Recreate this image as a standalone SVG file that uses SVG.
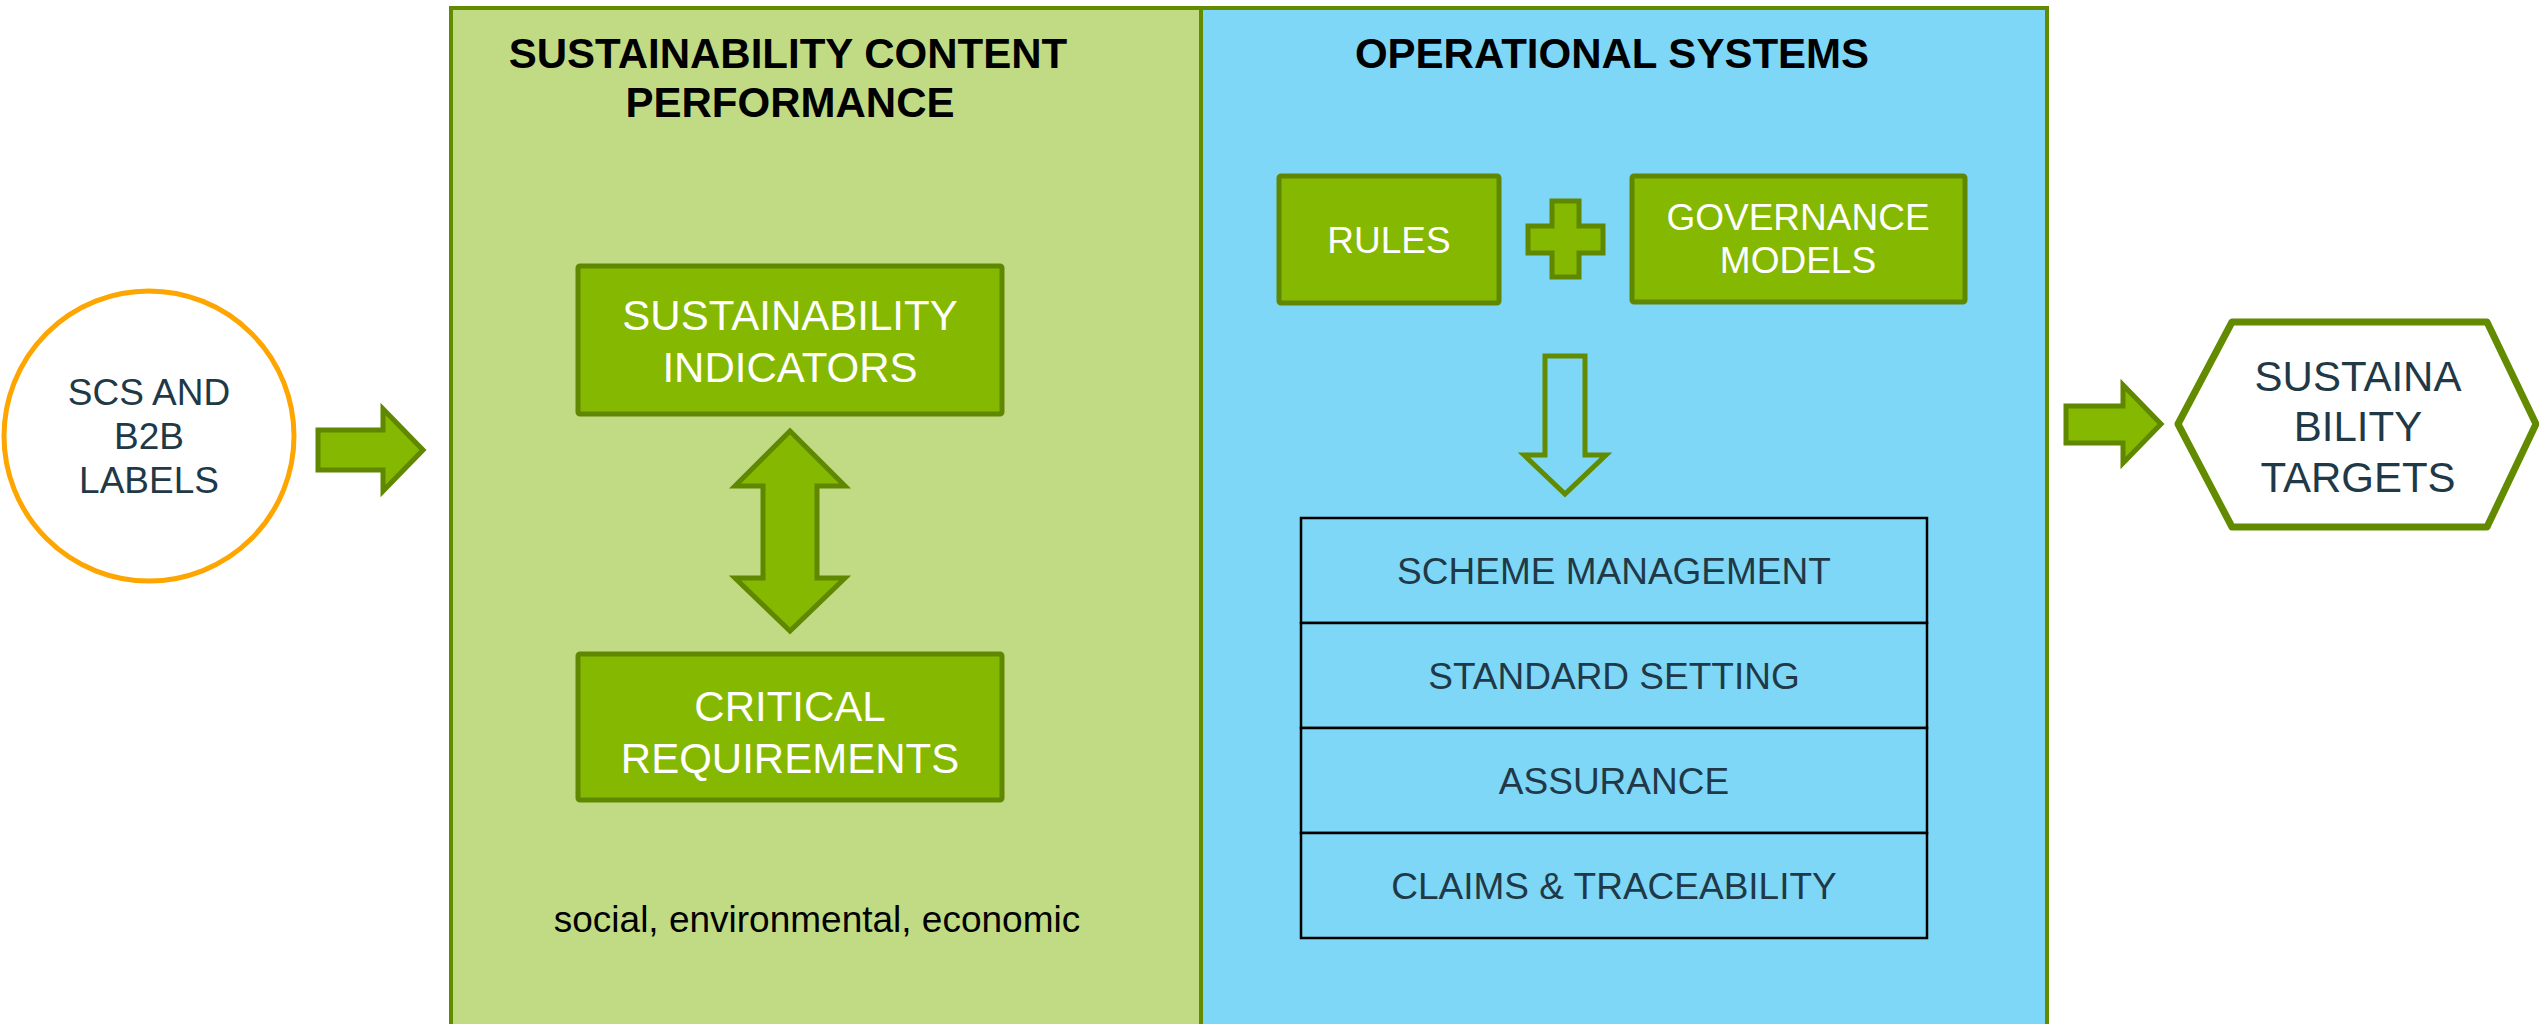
<svg xmlns="http://www.w3.org/2000/svg" width="2539" height="1024" viewBox="0 0 2539 1024">
<style>
.panel{stroke:#628B00;stroke-width:4}
.gbox{fill:#85B800;stroke:#5F8700;stroke-width:5}
.arrow{fill:#85B800;stroke:#5F8700;stroke-width:5;stroke-linejoin:miter}
.title{font-family:"Liberation Sans",Arial,sans-serif;font-weight:bold;font-size:42px;fill:#000;text-anchor:middle}
.wt{font-family:"Liberation Sans",Arial,sans-serif;fill:#fff;text-anchor:middle}
.dt{font-family:"Liberation Sans",Arial,sans-serif;fill:#1F3947;text-anchor:middle}
.row{fill:#7FD7F7;stroke:#000;stroke-width:2.5}
</style>
<rect width="2539" height="1024" fill="#fff"/>
<g id="panel-content">
<rect class="panel" x="451" y="8" width="750" height="1030" fill="#C1DB85"/>
<text class="title" x="788" y="68">SUSTAINABILITY CONTENT</text>
<text class="title" x="790" y="117">PERFORMANCE</text>
<text x="817" y="932" font-family="Liberation Sans, Arial, sans-serif" font-size="37" fill="#000" text-anchor="middle">social, environmental, economic</text>
</g>
<g id="panel-operational">
<rect class="panel" x="1201" y="8" width="846" height="1030" fill="#7FD7F7"/>
<text class="title" x="1612" y="68">OPERATIONAL SYSTEMS</text>
</g>
<g id="node-scs">
<circle cx="149" cy="436" r="145" fill="#fff" stroke="#FFA500" stroke-width="5"/>
<text class="dt" font-size="37" x="149" y="405">SCS AND</text>
<text class="dt" font-size="37" x="149" y="449">B2B</text>
<text class="dt" font-size="37" x="149" y="493">LABELS</text>
</g>
<g id="node-indicators">
<rect class="gbox" x="578" y="266" width="424" height="148" rx="2"/>
<text class="wt" font-size="42" x="790" y="330">SUSTAINABILITY</text>
<text class="wt" font-size="42" x="790" y="382">INDICATORS</text>
</g>
<g id="node-critical">
<rect class="gbox" x="578" y="654" width="424" height="146" rx="2"/>
<text class="wt" font-size="42" x="790" y="721">CRITICAL</text>
<text class="wt" font-size="42" x="790" y="773">REQUIREMENTS</text>
</g>
<g id="node-rules">
<rect class="gbox" x="1279" y="176" width="220" height="127" rx="2"/>
<text class="wt" font-size="37" x="1389" y="253">RULES</text>
</g>
<g id="node-plus">
<path class="arrow" d="M1552,201 H1579 V226 H1603 V253 H1579 V277 H1552 V253 H1528 V226 H1552 Z"/>
</g>
<g id="node-governance">
<rect class="gbox" x="1632" y="176" width="333" height="126" rx="2"/>
<text class="wt" font-size="37" x="1798" y="230">GOVERNANCE</text>
<text class="wt" font-size="37" x="1798" y="273">MODELS</text>
</g>
<g id="node-table">
<rect class="row" x="1301" y="518" width="626" height="105"/>
<rect class="row" x="1301" y="623" width="626" height="105"/>
<rect class="row" x="1301" y="728" width="626" height="105"/>
<rect class="row" x="1301" y="833" width="626" height="105"/>
<text class="dt" font-size="37" x="1614" y="584">SCHEME MANAGEMENT</text>
<text class="dt" font-size="37" x="1614" y="689">STANDARD SETTING</text>
<text class="dt" font-size="37" x="1614" y="794">ASSURANCE</text>
<text class="dt" font-size="37" x="1614" y="899">CLAIMS &amp; TRACEABILITY</text>
</g>
<g id="node-targets">
<polygon points="2178,424 2232,322 2487,322 2536,424 2487,527 2232,527" fill="#fff" stroke="#628B00" stroke-width="7" stroke-linejoin="round"/>
<text class="dt" font-size="42" x="2358" y="391">SUSTAINA</text>
<text class="dt" font-size="42" x="2358" y="441">BILITY</text>
<text class="dt" font-size="42" x="2358" y="492">TARGETS</text>
</g>
<g id="connectors">
<path class="arrow" d="M318,430 H383 V409 L423,450 L383,491 V470 H318 Z"/>
<path class="arrow" d="M790,431 L845,486 H817 V578 H845 L790,631 L735,578 H763 V486 H735 Z"/>
<path d="M1545,356 H1585 V455 H1606 L1565,494 L1524,455 H1545 Z" fill="none" stroke="#628B00" stroke-width="5"/>
<path class="arrow" d="M2066,406 H2123 V385 L2161,424 L2123,463 V443 H2066 Z"/>
</g>
</svg>
